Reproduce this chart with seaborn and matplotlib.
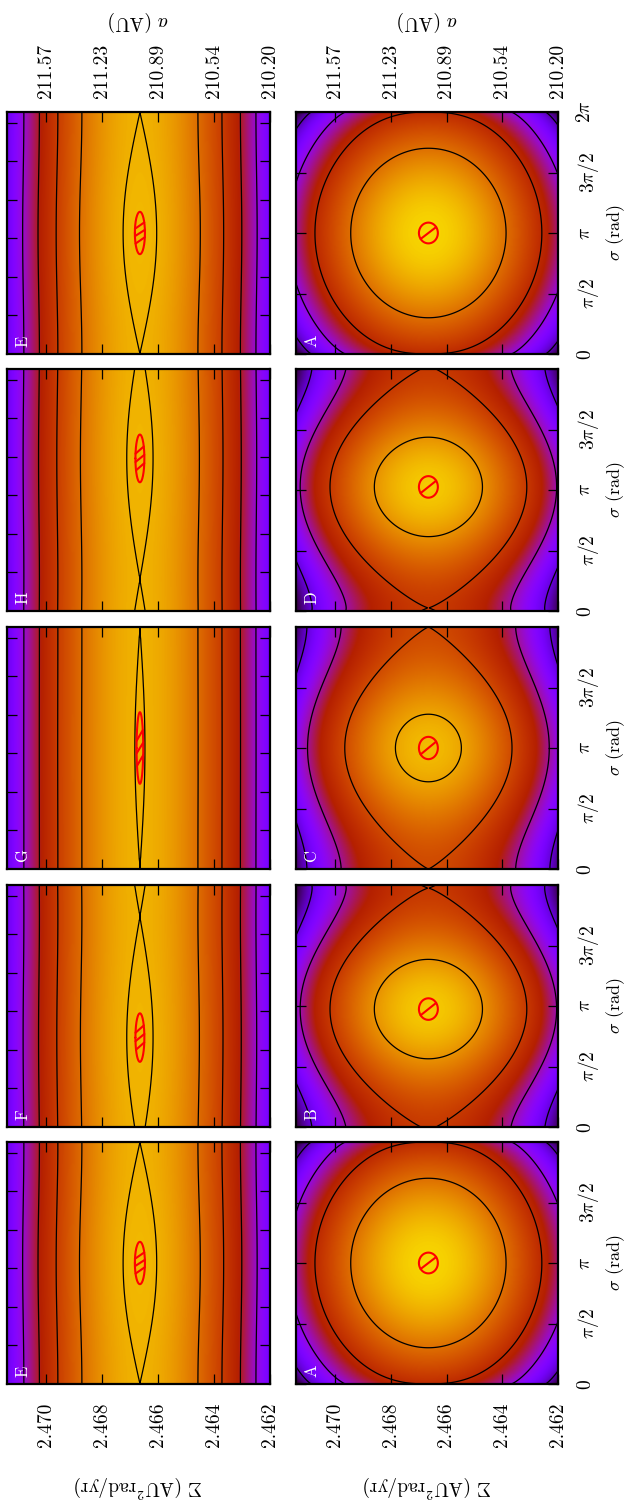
import numpy as np
import pandas as pd
import matplotlib
matplotlib.use("Agg")
import matplotlib.pyplot as plt
import seaborn as sns

PI = np.pi

# ---------------- values ----------------
Sigma_ticks = [2.470, 2.468, 2.466, 2.464, 2.462]
Sigma_tick_labels = ["2.470", "2.468", "2.466", "2.464", "2.462"]
a_tick_labels = ["211.57", "211.23", "210.89", "210.54", "210.20"]
sigma_ticks = [0, PI / 2, PI, 3 * PI / 2, 2 * PI]
sigma_tick_labels = ["0", r"$\pi/2$", r"$\pi$", r"$3\pi/2$", r"$2\pi$"]
sigma_ticks_plain = [1, 2, 3, 4, 5, 6]
Sigma_limits = [2.4714, 2.4620]
Sigma_center = 2.46665

column_left = ["E", "H", "G", "F", "E"]    # top -> bottom
column_right = ["A", "D", "C", "B", "A"]   # top -> bottom

panel_names = ["A", "B", "C", "D", "E", "F", "G", "H"]
center_shift = [0.0, -0.08, 0.0, 0.08, 0.0, -0.82, 0.0, 0.82]          # rad
separatrix_halfwidth = [4.07, 3.53, 3.00, 3.53, 0.60, 0.47, 0.18, 0.47]  # 1e-3 Sigma
shape_exponent = [0.8, 1.6, 1.7, 1.6, 2.0, 2.0, 2.0, 2.0]
levels_A = [-17.6, -8.8, 0.0, 8.8]
levels_B = [-17.4, -8.7, 0.0, 8.7]
levels_C = [-19.0, -9.8, 0.0, 7.6]
levels_D = [-17.4, -8.7, 0.0, 8.7]
levels_EFGH = [-17.2, -12.9, -8.6, -4.3, 0.0]
colour_min = [-23.0, -24.0, -25.0, -24.0, -28.5, -28.5, -28.5, -28.5]
colour_max = [19.0, 15.5, 12.8, 15.5, 3.7, 3.7, 3.7, 3.7]
loop_half_Sigma = [0.34, 0.34, 0.34, 0.34, 0.18, 0.16, 0.12, 0.16]  # 1e-3 Sigma
loop_half_sigma = [0.27, 0.28, 0.29, 0.28, 0.55, 0.63, 0.93, 0.62]  # rad
chords_right = [(-35.0, 145.0)]
chords_left = [(-30.0, 191.5), (-8.6, 171.4), (11.5, 150.0)]

levels_by_panel = {"A": levels_A, "B": levels_B, "C": levels_C, "D": levels_D,
                   "E": levels_EFGH, "F": levels_EFGH, "G": levels_EFGH, "H": levels_EFGH}

# ---------------- style ----------------
sns.set_theme(style="white")
plt.rcParams.update({
    "font.family": ["cmr10", "DejaVu Serif"],
    "mathtext.fontset": "cm",
    "axes.formatter.use_mathtext": True,
    "axes.unicode_minus": False,
    "font.size": 14,
    "xtick.labelsize": 14,
    "ytick.labelsize": 14,
    "axes.labelsize": 14,
    "axes.edgecolor": "black",
    "text.color": "black",
    "axes.labelcolor": "black",
    "xtick.color": "black",
    "ytick.color": "black",
    "contour.negative_linestyle": "solid",
})

W_PX, H_PX = 626, 1504
fig = plt.figure(figsize=(W_PX / 100, H_PX / 100), dpi=100)

col_x = [7, 296]
col_w = [263, 262]
row_top = [112, 369, 627, 885, 1142]
row_h = 242

S_grid = np.linspace(min(Sigma_limits), max(Sigma_limits), 361)
s_grid = np.linspace(0, 2 * PI, 361)
SS, ss = np.meshgrid(S_grid, s_grid)


def field(i):
    W = separatrix_halfwidth[i] ** 2
    d = (SS - Sigma_center) * 1e3
    g = np.abs(np.sin((ss - center_shift[i]) / 2.0)) ** shape_exponent[i]
    return -d ** 2 + W * g


for c, names in enumerate([column_left, column_right]):
    for r, name in enumerate(names):
        i = panel_names.index(name)
        left = col_x[c] / W_PX
        bottom = 1 - (row_top[r] + row_h) / H_PX
        ax = fig.add_axes([left, bottom, col_w[c] / W_PX, row_h / H_PX])
        H = field(i)
        ax.imshow(H, origin="lower", aspect="auto", cmap="gnuplot",
                  vmin=colour_min[i], vmax=colour_max[i], interpolation="bilinear",
                  extent=(S_grid[0], S_grid[-1], 0, 2 * PI))
        ax.contour(SS, ss, H, levels=levels_by_panel[name], colors="black",
                   linewidths=0.9, linestyles="solid")

        # red libration loop
        sc = PI + center_shift[i]
        t = np.linspace(0, 2 * PI, 160)
        rows = []
        for tt in t:
            rows.append((Sigma_center + 1e-3 * loop_half_Sigma[i] * np.cos(tt),
                         sc + loop_half_sigma[i] * np.sin(tt), 0))
        chords = chords_right if c == 1 else chords_left
        for k, (t1, t2) in enumerate(chords):
            for tt in (np.radians(t1), np.radians(t2)):
                rows.append((Sigma_center + 1e-3 * loop_half_Sigma[i] * np.cos(tt),
                             sc + loop_half_sigma[i] * np.sin(tt), k + 1))
        df = pd.DataFrame(rows, columns=["S", "s", "seg"])
        sns.lineplot(data=df, x="S", y="s", units="seg", estimator=None, sort=False,
                     color="red", linewidth=1.5, ax=ax, legend=False)

        ax.set_xlim(Sigma_limits)
        ax.set_ylim(0, 2 * PI)
        ax.set_xlabel("")
        ax.set_ylabel("")
        for sp in ax.spines.values():
            sp.set_linewidth(1.6)
            sp.set_color("black")

        # Sigma axis (horizontal)
        ax.set_xticks(Sigma_ticks)
        is_bottom = (r == len(names) - 1)
        if is_bottom:
            ax.set_xticklabels(Sigma_tick_labels, rotation=90)
            ax.set_xlabel(r"$\Sigma$ (AU$^2$rad/yr)", rotation=180, labelpad=19)
        ax.tick_params(axis="x", direction="in", top=True, bottom=True, length=7,
                       width=0.9, labelbottom=is_bottom, labeltop=False, pad=13.5)

        # sigma axis (vertical)
        if c == 0:
            ax.set_yticks(sigma_ticks_plain)
            ax.tick_params(axis="y", direction="in", left=True, right=True, length=7,
                           width=0.9, labelleft=False, labelright=False)
        else:
            labs = list(sigma_tick_labels)
            if r != 0:
                labs[-1] = ""
            ax.set_yticks(sigma_ticks)
            ax.set_yticklabels(labs, rotation=90, va="center")
            ax.tick_params(axis="y", direction="in", left=True, right=True, length=7,
                           width=0.9, labelleft=False, labelright=True, pad=13)
            ax.yaxis.set_label_position("right")
            ax.set_ylabel(r"$\sigma$ (rad)", rotation=90, fontsize=13)
            ax.yaxis.set_label_coords((604 - col_x[c]) / col_w[c], 0.5)

        # a axis on top row
        if r == 0:
            sec = ax.secondary_xaxis("top")
            sec.set_xticks(Sigma_ticks)
            sec.set_xticklabels(a_tick_labels, rotation=90)
            sec.tick_params(axis="x", direction="in", length=0, pad=10)
            sec.set_xlabel(r"$a$ (AU)", rotation=180, labelpad=13)

        ax.text(0.03, 0.03, name, rotation=90, color="white", fontsize=12,
                transform=ax.transAxes, ha="left", va="bottom")

fig.savefig("out.png", dpi=100)
